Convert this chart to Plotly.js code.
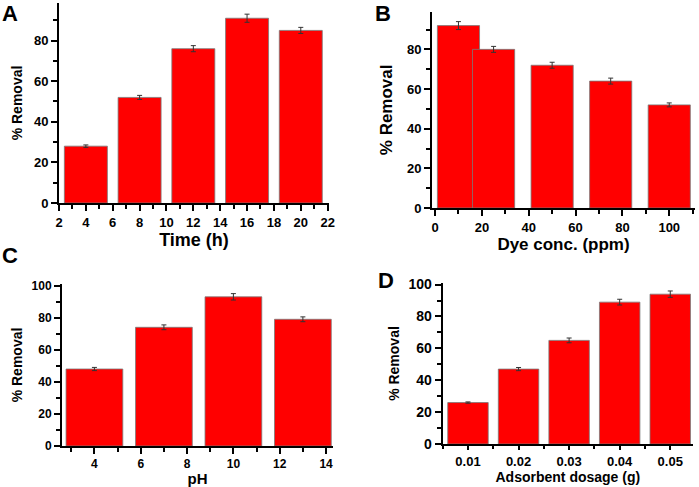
<!DOCTYPE html>
<html>
<head>
<meta charset="utf-8">
<script src="https://cdn.plot.ly/plotly-3.0.1.min.js"></script>
<style>
  html, body { margin: 0; padding: 0; background: #fff; }
  #graph { width: 699px; height: 487px; }
</style>
</head>
<body>
<div id="graph"></div>
<script>
//DATA
// A: contact time
var timeH = [4, 8, 12, 16, 20];
var timeRemoval = [28, 52, 76, 91, 85];
var timeErr = [0.6, 1, 1.5, 2, 1.5];

// B: dye concentration
var dyeConc = [10, 25, 50, 75, 100];
var dyeRemoval = [92, 80, 72, 64, 52];
var dyeErr = [2, 1.5, 1.5, 1.5, 1];

// C: pH
var phVals = [4, 7, 10, 13];
var phRemoval = [48, 74, 93, 79];
var phErr = [1, 1.5, 2, 1.5];

// D: adsorbent dosage
var dosage = [0.01, 0.02, 0.03, 0.04, 0.05];
var dosageRemoval = [26, 47, 65, 89, 94];
var dosageErr = [0.4, 1, 1.5, 1.8, 2];

//HELPERS
var W = 699, H = 487;
function px(x){ return x / W; }
function py(y){ return (H - y) / H; }

function barTrace(x, y, err, width, xa, ya){
	return {
		x: x, y: y,
		type: 'bar',
		width: width,
		xaxis: xa, yaxis: ya,
		marker: {color: '#ff0000', line: {color: '#7a7a7a', width: 0.8}},
		error_y: {type: 'data', array: err, visible: true, color: '#333', thickness: 1, width: 2.5},
		showlegend: false,
		hoverinfo: 'x+y'
	};
}

var fam = 'Liberation Sans, Arial, sans-serif';
var minorTicks = function(d, len){
	return {dtick: d, ticklen: len || 4, tickwidth: 2, tickcolor: '#000', ticks: 'outside'};
};

function axisStyle(extra, tickSize){
	var a = {
		showline: true, linewidth: 2, linecolor: '#000',
		ticks: 'outside', ticklen: 6, tickwidth: 2, tickcolor: '#000',
		showgrid: false, zeroline: false,
		tickfont: {family: fam, size: tickSize, color: '#000', weight: 'bold'},
		fixedrange: true
	};
	for (var k in extra) a[k] = extra[k];
	return a;
}

var traces = [
	barTrace(timeH, timeRemoval, timeErr, 3.2, 'x', 'y'),
	barTrace(dyeConc, dyeRemoval, dyeErr, 18, 'x2', 'y2'),
	barTrace(phVals, phRemoval, phErr, 2.45, 'x3', 'y3'),
	barTrace(dosage, dosageRemoval, dosageErr, 0.008, 'x4', 'y4')
];

function ttl(text, size, standoff){
	return {text: text, font: {family: fam, size: size, color: '#000', weight: 'bold'}, standoff: standoff};
}

var layout = {
	width: W, height: H,
	margin: {l: 0, r: 0, t: 0, b: 0},
	paper_bgcolor: '#fff', plot_bgcolor: '#fff',
	bargap: 0,
	xaxis: axisStyle({domain: [px(59), px(329)], anchor: 'y', range: [2, 22.1],
		dtick: 2, tick0: 0, minor: minorTicks(1),
		title: ttl('Time (h)', 18, 2)}, 13),
	yaxis: axisStyle({domain: [py(203), py(3)], anchor: 'x', range: [0, 98.5],
		dtick: 20, minor: minorTicks(10),
		title: ttl('% Removal', 14, 8)}, 13),
	xaxis2: axisStyle({domain: [px(432), px(695)], anchor: 'y2', range: [-1.3, 111],
		dtick: 20, minor: minorTicks(10),
		title: ttl('Dye conc. (ppm)', 17, 2)}, 13),
	yaxis2: axisStyle({domain: [py(208), py(11.7)], anchor: 'x2', range: [0, 99],
		dtick: 20, minor: minorTicks(10),
		title: ttl('% Removal', 17, 10)}, 13),
	xaxis3: axisStyle({domain: [px(62), px(333)], anchor: 'y3', range: [2.6, 14.3],
		dtick: 2, tick0: 0, minor: minorTicks(1),
		title: ttl('pH', 15, 8)}, 12),
	yaxis3: axisStyle({domain: [py(446), py(284)], anchor: 'x3', range: [0, 101],
		dtick: 20, minor: minorTicks(10),
		title: ttl('% Removal', 14, 6)}, 12),
	xaxis4: axisStyle({domain: [px(442.7), px(693)], anchor: 'y4', range: [0.005, 0.0545],
		dtick: 0.01, tick0: 0, tickformat: '.2f', ticklen: 4,
		minor: minorTicks(0.005, 3),
		title: ttl('Adsorbent dosage (g)', 14, 3)}, 13),
	yaxis4: axisStyle({domain: [py(444), py(283)], anchor: 'x4', range: [0, 101],
		dtick: 20, minor: minorTicks(10),
		title: ttl('% Removal', 14, 6)}, 14),
	annotations: [
		{text: 'A', x: px(10), y: py(13)},
		{text: 'B', x: px(383), y: py(14)},
		{text: 'C', x: px(10), y: py(255)},
		{text: 'D', x: px(386), y: py(280)}
	].map(function(a){
		a.xref = 'paper'; a.yref = 'paper'; a.showarrow = false;
		a.xanchor = 'center'; a.yanchor = 'middle';
		a.font = {family: fam, size: 22, color: '#000', weight: 'bold'};
		return a;
	})
};

Plotly.newPlot('graph', traces, layout, {displayModeBar: false, staticPlot: true});
</script>
</body>
</html>
